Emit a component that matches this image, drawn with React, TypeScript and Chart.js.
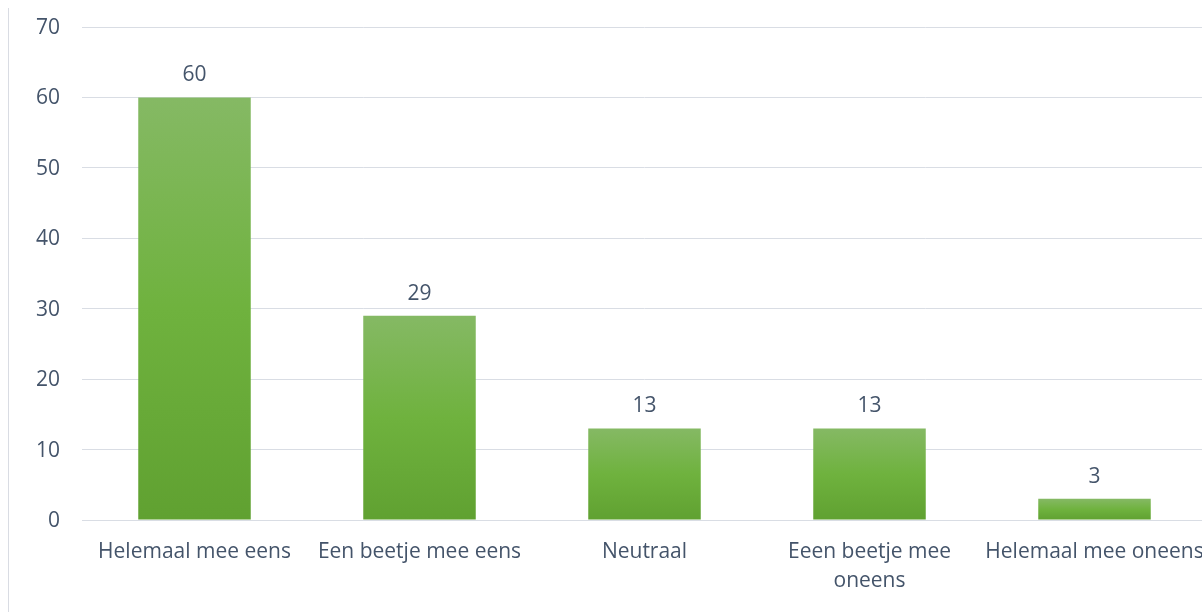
import React, { useEffect, useRef } from "react";
import { Chart, registerables } from "chart.js";

Chart.register(...registerables);

const categories: (string | string[])[] = [
  "Helemaal mee eens",
  "Een beetje mee eens",
  "Neutraal",
  ["Eeen beetje mee", "oneens"],
  "Helemaal mee oneens",
];
const values: number[] = [60, 29, 13, 13, 3];
const yTicks = { min: 0, max: 70, step: 10 };

const TEXT = "#44546a";
const GRID = "#d9dde4";
const FONT = "'Open Sans', sans-serif";

const valueLabels = {
  id: "valueLabels",
  afterDatasetsDraw(chart: any) {
    const ctx = chart.ctx;
    const meta = chart.getDatasetMeta(0);
    ctx.save();
    ctx.fillStyle = TEXT;
    ctx.font = `21px ${FONT}`;
    ctx.textAlign = "center";
    ctx.textBaseline = "alphabetic";
    meta.data.forEach((bar: any, i: number) => {
      ctx.fillText(String(values[i]), bar.x, bar.y - 16);
    });
    ctx.restore();
  },
};

export default function App() {
  const ref = useRef<HTMLCanvasElement | null>(null);
  useEffect(() => {
    if (!ref.current) return;
    const chart = new Chart(ref.current, {
      type: "bar",
      data: {
        labels: categories,
        datasets: [
          {
            data: values,
            backgroundColor: (c: any) => {
              const ch = c.chart;
              if (c.type !== "data" || !ch.chartArea) return "#70ad47";
              const y = ch.scales.y;
              const top = y.getPixelForValue(c.raw);
              const bottom = y.getPixelForValue(0);
              const g = ch.ctx.createLinearGradient(0, top, 0, bottom);
              g.addColorStop(0, "#85b964");
              g.addColorStop(0.5, "#6fb23e");
              g.addColorStop(1, "#60a131");
              return g;
            },
            borderWidth: 0,
            categoryPercentage: 1,
            barPercentage: 0.5,
          },
        ],
      },
      options: {
        responsive: false,
        animation: false,
        layout: { padding: { top: 19, right: 2, left: 0, bottom: 0 } },
        plugins: { legend: { display: false }, tooltip: { enabled: false } },
        scales: {
          x: {
            grid: { display: false, drawTicks: false },
            border: { display: true, color: GRID, width: 1 },
            ticks: { color: TEXT, font: { family: FONT, size: 21, lineHeight: 1.36 }, padding: 18, maxRotation: 0, autoSkip: false },
            afterFit: (s: any) => {
              s.height = 92;
              s.paddingLeft = 0;
              s.paddingRight = 0;
            },
          },
          y: {
            min: yTicks.min,
            max: yTicks.max,
            grid: { color: GRID, drawTicks: false, lineWidth: 1 },
            border: { display: false },
            ticks: { stepSize: yTicks.step, color: TEXT, font: { family: FONT, size: 21 }, padding: 22, labelOffset: 1 },
            afterFit: (s: any) => {
              s.width = 73;
              s.paddingTop = 0;
              s.paddingBottom = 0;
            },
          },
        },
      },
      plugins: [valueLabels],
    });
    return () => chart.destroy();
  }, []);
  return (
    <div
      style={{
        position: "fixed",
        left: 8,
        top: 8,
        width: 1194,
        height: 604,
        overflow: "hidden",
        borderLeft: "1px solid #d9dce3",
        boxSizing: "border-box",
        background: "#fff",
      }}
    >
      <canvas ref={ref} width={1200} height={604} style={{ display: "block" }} />
    </div>
  );
}
